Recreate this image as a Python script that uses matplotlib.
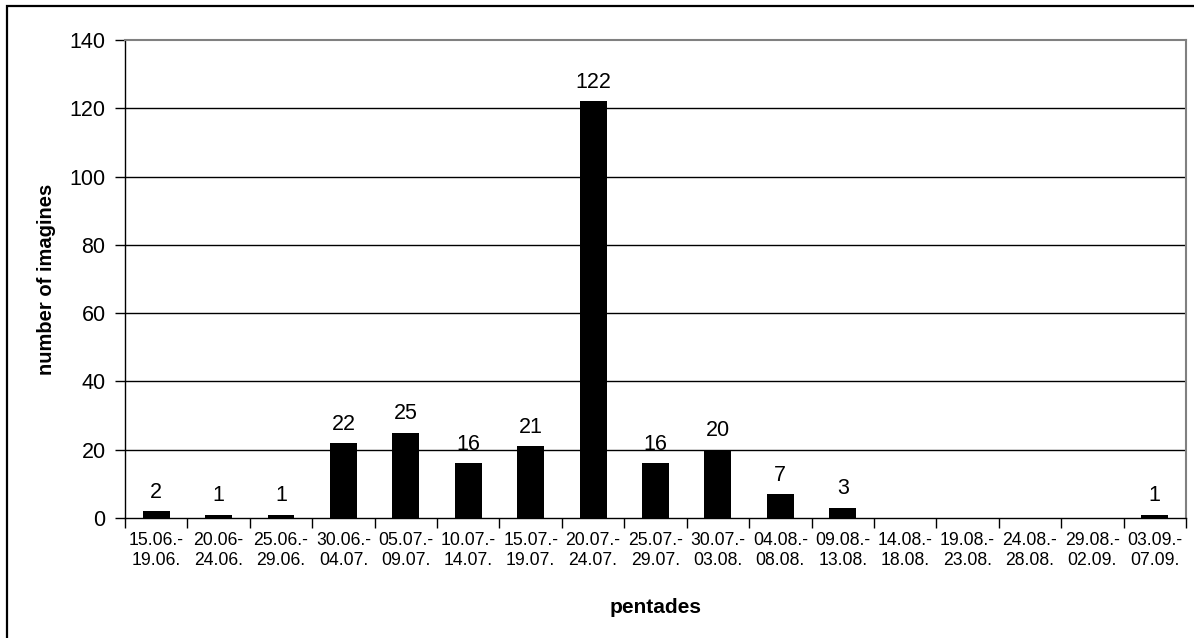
import matplotlib
matplotlib.use("Agg")
import matplotlib.pyplot as plt
from matplotlib.patches import Rectangle

plt.rcParams['font.family'] = ['Liberation Sans', 'DejaVu Sans']

categories = ["15.06.-\n19.06.", "20.06-\n24.06.", "25.06.-\n29.06.", "30.06.-\n04.07.",
              "05.07.-\n09.07.", "10.07.-\n14.07.", "15.07.-\n19.07.", "20.07.-\n24.07.",
              "25.07.-\n29.07.", "30.07.-\n03.08.", "04.08.-\n08.08.", "09.08.-\n13.08.",
              "14.08.-\n18.08.", "19.08.-\n23.08.", "24.08.-\n28.08.", "29.08.-\n02.09.",
              "03.09.-\n07.09."]
values = [2, 1, 1, 22, 25, 16, 21, 122, 16, 20, 7, 3, 0, 0, 0, 0, 1]
yticks = [0, 20, 40, 60, 80, 100, 120, 140]

W, H = 1194, 638
fig = plt.figure(figsize=(W / 100, H / 100), dpi=100)
# outer frame (left/top visible)
fig.patches.append(Rectangle((7 / W, -0.1), 1.2, (H - 6) / H + 0.1, transform=fig.transFigure,
                             fill=False, edgecolor='black', linewidth=1.6))

ax = fig.add_axes([125 / W, (H - 518) / H, (1186 - 125) / W, (518 - 40) / H])
n = len(values)
x = list(range(n))
ax.bar(x, values, width=0.43, color='black', zorder=3)

ax.set_xlim(-0.5, n - 0.5)
ax.set_ylim(0, 140)
ax.set_yticks(yticks)
ax.set_yticklabels([str(v) for v in yticks], fontsize=15.5)
ax.tick_params(axis='y', direction='out', length=7, width=1, pad=7)

ax.set_xticks(x)
ax.set_xticklabels(categories, fontsize=12.7, linespacing=1.25)
ax.tick_params(axis='x', which='major', length=0, pad=10)
ax.set_xticks([i - 0.5 for i in range(n + 1)], minor=True)
ax.tick_params(axis='x', which='minor', direction='out', length=7, width=1)

for v in yticks[1:-1]:
    ax.axhline(v, color='black', linewidth=1, zorder=1)

for s in ['left', 'bottom']:
    ax.spines[s].set_color('black')
    ax.spines[s].set_linewidth(1)
for s in ['top', 'right']:
    ax.spines[s].set_color('#808080')
    ax.spines[s].set_linewidth(1.5)

for xi, v in zip(x, values):
    if v > 0:
        ax.annotate(str(v), (xi, v), xytext=(0, 6), textcoords='offset points',
                    ha='center', va='bottom', fontsize=15.5)

ax.set_xlabel('pentades', fontsize=15, fontweight='bold', labelpad=21)
ax.set_ylabel('number of imagines', fontsize=14.5, fontweight='bold', labelpad=10)

fig.savefig('out.png', dpi=100)
